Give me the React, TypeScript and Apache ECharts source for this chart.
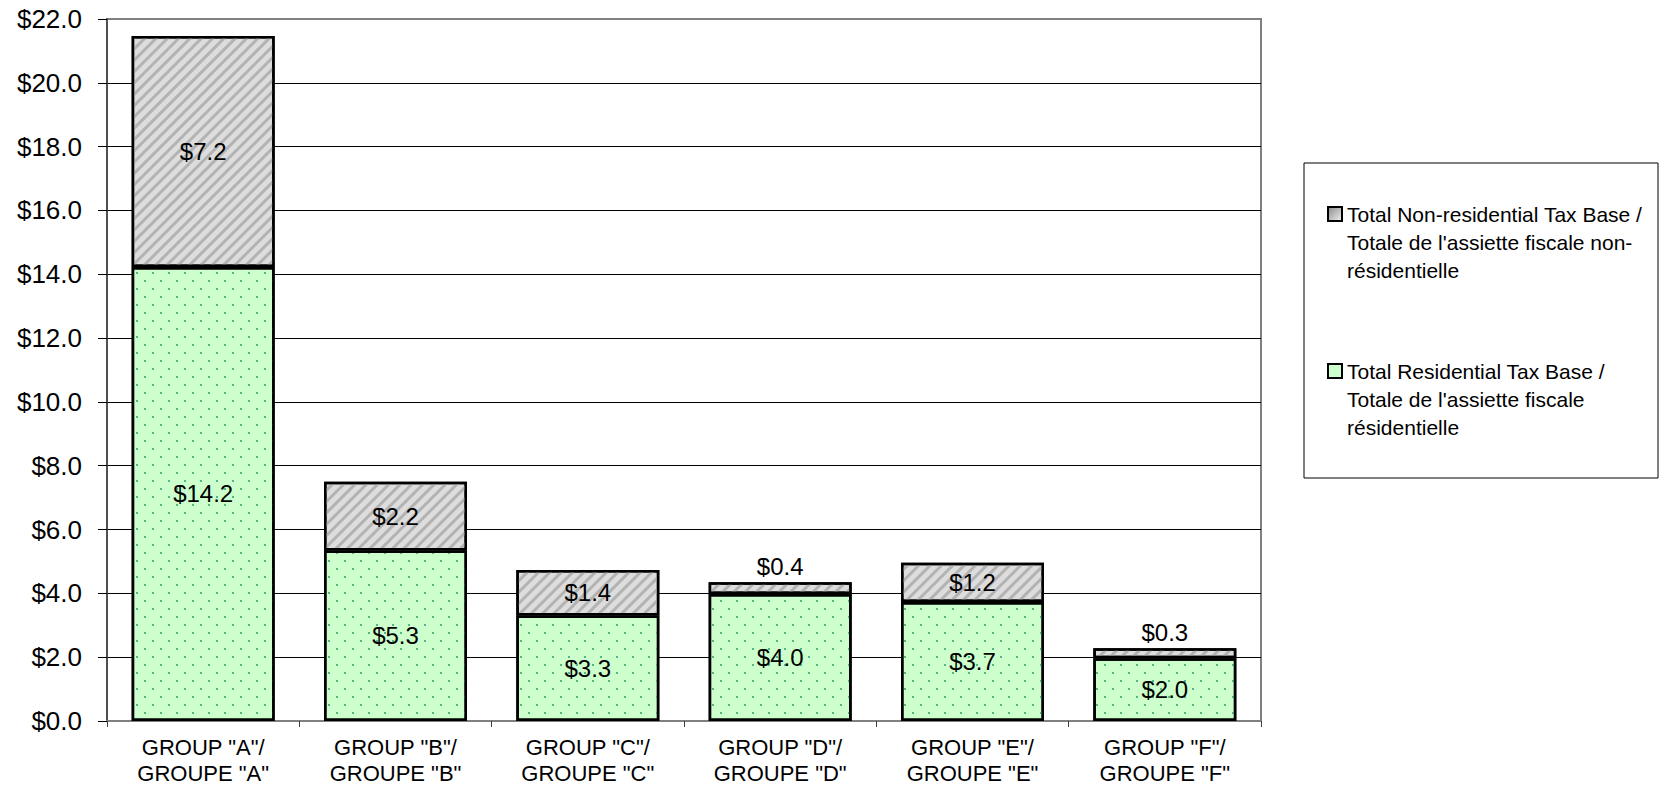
import React, { useEffect, useRef } from "react";
import * as echarts from "echarts";

const categories = [
  'GROUP "A"/\nGROUPE "A"',
  'GROUP "B"/\nGROUPE "B"',
  'GROUP "C"/\nGROUPE "C"',
  'GROUP "D"/\nGROUPE "D"',
  'GROUP "E"/\nGROUPE "E"',
  'GROUP "F"/\nGROUPE "F"',
];
const residential = [14.23, 5.34, 3.31, 3.98, 3.73, 1.97];
const nonResidential = [7.24, 2.16, 1.42, 0.37, 1.23, 0.31];
const yTicks = { min: 0, max: 22, interval: 2 };

const nonResName = "Total Non-residential Tax Base /\nTotale de l'assiette fiscale non-\nrésidentielle";
const resName = "Total Residential Tax Base /\nTotale de l'assiette fiscale\nrésidentielle";

const FONT = "'Liberation Sans', Arial, Helvetica, sans-serif";

export default function App() {
  const ref = useRef<HTMLDivElement>(null);
  useEffect(() => {
    if (!ref.current) return;
    const chart = echarts.init(ref.current, null, { renderer: "svg" });
    const fmt = (v: number) => "$" + v.toFixed(1);
    const option: any = {
      animation: false,
      backgroundColor: "#ffffff",
      textStyle: { fontFamily: FONT },
      grid: {
        left: 107,
        top: 19,
        right: 400,
        bottom: 65,
        show: true,
        borderColor: "#808080",
        borderWidth: 2,
        backgroundColor: "transparent",
      },
      xAxis: {
        type: "category",
        data: categories,
        axisLine: { lineStyle: { color: "#808080", width: 2 } },
        axisTick: { show: true, length: 6, lineStyle: { color: "#404040", width: 1 } },
        axisLabel: {
          color: "#000",
          fontSize: 22,
          lineHeight: 26,
          margin: 13,
          fontFamily: FONT,
          interval: 0,
        },
      },
      yAxis: {
        type: "value",
        min: yTicks.min,
        max: yTicks.max,
        interval: yTicks.interval,
        axisLine: { show: true, lineStyle: { color: "#404040", width: 1.5 } },
        axisTick: { show: true, length: 9, lineStyle: { color: "#000", width: 1 } },
        axisLabel: {
          color: "#000",
          fontSize: 26,
          margin: 25,
          fontFamily: FONT,
          formatter: (v: number) => fmt(v),
        },
        splitLine: {
          show: true,
          showMinLine: false,
          showMaxLine: false,
          lineStyle: { color: "#000", width: 1 },
        },
      },
      series: [
        {
          name: resName,
          type: "bar",
          stack: "total",
          barWidth: 143,
          data: residential,
          itemStyle: {
            color: "#ccffcc",
            borderColor: "#000",
            borderWidth: 2.5,
            decal: {
              symbol: "rect",
              symbolSize: 1,
              color: "#55b586",
              dashArrayX: [[1.8, 13.2], [0, 7.5, 1.8, 5.7]],
              dashArrayY: [1.6, 5.9],
              rotation: 0,
            },
          },
          label: {
            show: true,
            position: "inside",
            color: "#000",
            fontSize: 24,
            fontFamily: FONT,
            formatter: (p: any) => fmt(p.value),
          },
        },
        {
          name: nonResName,
          type: "bar",
          stack: "total",
          barWidth: 143,
          data: nonResidential.map((v) => ({
            value: v,
            label: v < 0.5 ? { position: "top", distance: 4 } : undefined,
          })),
          itemStyle: {
            color: "#dddddd",
            borderColor: "#000",
            borderWidth: 2.5,
            decal: {
              symbol: "rect",
              symbolSize: 1,
              color: "#b3b3b3",
              dashArrayX: [3, 4.4],
              dashArrayY: [1, 0],
              rotation: Math.PI / 4,
            },
          },
          label: {
            show: true,
            position: "inside",
            color: "#000",
            fontSize: 24,
            fontFamily: FONT,
            formatter: (p: any) => fmt(p.value),
          },
        },
      ],
      graphic: [
        {
          type: "rect",
          shape: { x: 1304, y: 163, width: 354, height: 315 },
          style: { fill: "#fff", stroke: "#000", lineWidth: 1 },
          z: 10,
        },
        {
          type: "rect",
          shape: { x: 1328, y: 207, width: 14, height: 14 },
          style: {
            fill: new echarts.graphic.LinearGradient(0, 0, 1, 1, [
              { offset: 0, color: "#8a8a8a" },
              { offset: 1, color: "#f0f0f0" },
            ]),
            stroke: "#000",
            lineWidth: 2,
          },
          z: 11,
        },
        {
          type: "text",
          x: 1347,
          y: 200,
          style: {
            text: nonResName,
            fill: "#000",
            font: `21px ${FONT}`,
            lineHeight: 28,
            verticalAlign: "top",
          },
          z: 11,
        },
        {
          type: "rect",
          shape: { x: 1328, y: 364, width: 14, height: 14 },
          style: { fill: "#ccffcc", stroke: "#000", lineWidth: 2 },
          z: 11,
        },
        {
          type: "text",
          x: 1347,
          y: 357,
          style: {
            text: resName,
            fill: "#000",
            font: `21px ${FONT}`,
            lineHeight: 28,
            verticalAlign: "top",
          },
          z: 11,
        },
      ],
    };
    chart.setOption(option);
    return () => chart.dispose();
  }, []);
  return (
    <div
      ref={ref}
      style={{ position: "fixed", left: 0, top: 0, width: 1661, height: 786, background: "#fff" }}
    />
  );
}
